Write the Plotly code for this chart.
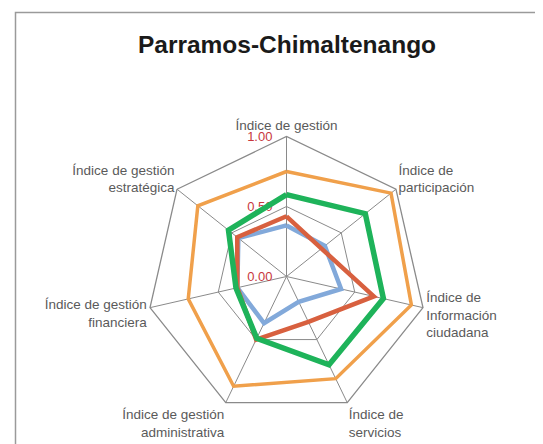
import plotly.graph_objects as go

categories = [
    "Índice de gestión",
    "Índice de<br>participación",
    "Índice de<br>Información<br>ciudadana",
    "Índice de<br>servicios",
    "Índice de gestión<br>administrativa",
    "Índice de gestión<br>financiera",
    "Índice de gestión<br>estratégica",
]

serie_naranja = [0.75, 0.955, 0.915, 0.81, 0.87, 0.72, 0.81]
serie_azul = [0.365, 0.35, 0.40, 0.20, 0.37, 0.36, 0.44]
serie_roja = [0.43, 0.32, 0.64, 0.36, 0.50, 0.36, 0.45]
serie_verde = [0.585, 0.72, 0.71, 0.70, 0.49, 0.37, 0.53]

radial_ticks = [0.0, 0.5, 1.0]
radial_ticklabels = ["0.00", "0.50", "1.00"]

series = [
    ("Serie 1", serie_naranja, "#F0A04B", 3.5),
    ("Serie 2", serie_azul, "#82A9DA", 4.5),
    ("Serie 3", serie_roja, "#D8603F", 4.5),
    ("Serie 4", serie_verde, "#1EB35A", 5.5),
]

fig = go.Figure()
for name, vals, color, w in series:
    fig.add_trace(go.Scatterpolar(
        r=vals + vals[:1],
        theta=categories + categories[:1],
        mode="lines",
        name=name,
        line=dict(color=color, width=w),
        showlegend=False,
        hoverinfo="skip",
    ))

W, H = 543, 444
cx, cy, R = 278.5, 268.5, 140.0

fig.update_layout(
    width=W, height=H,
    margin=dict(l=0, r=0, t=0, b=0),
    paper_bgcolor="white",
    plot_bgcolor="white",
    showlegend=False,
    title=dict(
        text="<b>Parramos-Chimaltenango</b>",
        x=279 / W, xanchor="center",
        y=1 - 36 / H, yanchor="middle",
        font=dict(family="Liberation Sans, Arial, sans-serif", size=24.5, color="#1a1a1a"),
    ),
    polar=dict(
        domain=dict(x=[(cx - R) / W, (cx + R) / W], y=[1 - (cy + R) / H, 1 - (cy - R) / H]),
        bgcolor="white",
        gridshape="linear",
        radialaxis=dict(
            range=[0, 1],
            tickvals=radial_ticks,
            ticktext=radial_ticklabels,
            angle=90,
            tickangle=90,
            side="counterclockwise",
            showline=False,
            showgrid=True,
            gridcolor="#8a8a8a",
            gridwidth=1.3,
            ticks="outside",
            ticklen=9,
            tickcolor="rgba(0,0,0,0)",
            tickfont=dict(family="Liberation Sans, Arial, sans-serif", size=13, color="#C8373D"),
            layer="below traces",
        ),
        angularaxis=dict(
            direction="clockwise",
            rotation=90,
            showline=True,
            linecolor="#8a8a8a",
            linewidth=1.3,
            showgrid=True,
            gridcolor="#8a8a8a",
            gridwidth=1.3,
            ticks="",
            tickfont=dict(family="Liberation Sans, Arial, sans-serif", size=13.5, color="#5a5a5a"),
            layer="below traces",
        ),
    ),
    shapes=[dict(
        type="rect", xref="paper", yref="paper",
        x0=7.5 / W, x1=1.05, y0=-0.05, y1=1 - 4.5 / H,
        line=dict(color="#9a9a9a", width=1.5),
        fillcolor="rgba(0,0,0,0)",
        layer="below",
    )],
)

fig.write_html("out.html")
